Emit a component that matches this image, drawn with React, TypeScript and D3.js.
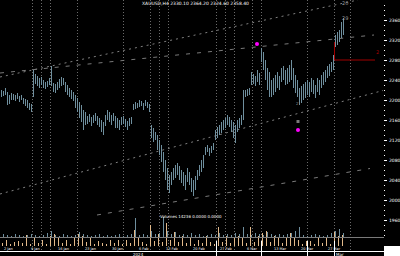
import React from "react";
import * as d3 from "d3";

// price bars: high / low per bar
const highs = [2220,2218,2224,2216,2210,2214,2212,2210,2214,2208,2210,2204,2202,2200,2194,2192,2260,2252,2248,2244,2246,2240,2236,2238,2244,2268,2234,2232,2236,2242,2246,2244,2236,2230,2224,2220,2216,2210,2204,2196,2190,2180,2176,2168,2172,2166,2170,2174,2168,2164,2160,2156,2170,2180,2176,2170,2174,2168,2164,2160,2166,2168,2162,2158,2164,2166,2192,2196,2194,2200,2198,2194,2200,2196,2192,2150,2144,2136,2130,2120,2110,2096,2080,2064,2050,2056,2064,2070,2074,2068,2060,2056,2050,2064,2056,2044,2040,2048,2060,2070,2080,2090,2106,2110,2104,2108,2114,2140,2146,2150,2156,2160,2164,2170,2166,2160,2156,2150,2160,2164,2170,2220,2220,2222,2224,2256,2252,2248,2260,2254,2304,2296,2280,2264,2256,2240,2244,2250,2256,2248,2264,2268,2260,2264,2270,2280,2264,2250,2240,2224,2228,2232,2236,2240,2236,2244,2240,2230,2244,2240,2250,2256,2260,2268,2272,2276,2290,2330,2336,2340,2356,2364];
const lows = [2206,2208,2210,2190,2192,2200,2200,2198,2202,2196,2200,2192,2188,2184,2180,2176,2206,2232,2228,2224,2230,2224,2222,2226,2230,2228,2216,2214,2220,2224,2228,2230,2216,2210,2206,2202,2198,2184,2176,2164,2156,2140,2150,2152,2156,2148,2154,2158,2150,2146,2136,2130,2148,2160,2156,2150,2158,2144,2144,2140,2150,2152,2146,2140,2148,2152,2180,2182,2184,2186,2188,2180,2188,2184,2176,2124,2116,2120,2100,2090,2076,2056,2040,2020,2014,2030,2040,2044,2050,2040,2034,2028,2020,2036,2030,2016,2008,2020,2040,2048,2056,2064,2090,2096,2088,2094,2100,2120,2124,2130,2134,2140,2144,2150,2146,2136,2124,2114,2136,2144,2150,2160,2206,2208,2210,2230,2232,2228,2236,2230,2276,2260,2240,2220,2206,2206,2210,2216,2224,2220,2236,2240,2230,2232,2236,2240,2224,2214,2206,2190,2194,2200,2204,2210,2206,2216,2212,2204,2216,2210,2224,2230,2236,2244,2248,2256,2260,2306,2310,2316,2324,2330];

// volume (one per two bars) and oscillator
const volume = [3,6,2,4,5,3,11,2,8,3,6,2,10,12,8,3,6,2,8,12,10,4,8,2,5,3,2,6,3,6,2,6,3,16,8,4,2,21,5,12,4,23,6,14,4,10,3,8,2,6,3,10,4,2,19,4,10,3,8,10,8,3,19,4,10,13,15,4,10,8,3,8,13,8,6,2,5,5,2,8,3,8,2,14,10,11];
const osc = [3,2,1,3,2,1,2,3,2,1,2,4,6,2,1,3,2,1,2,5,3,2,1,2,3,1,2,1,2,3,1,2,3,19,2,3,2,6,3,4,20,6,3,5,2,3,2,4,2,3,1,2,3,2,4,2,3,2,4,3,10,3,2,4,3,2,5,3,2,3,2,3,4,6,10,2,1,2,3,2,1,2,4,6,8,4];

// period separators (bar index)
const separators = [15.5,20,24.5,38,61,74.5,79,83.5,107.5,112,116.5,125.5,130,153,166.5,174.5];

// trend lines: [i1, p1, i2, p2]
const trendUpperA = [-0.5, 2246, 178.5, 2400];
const trendUpperB = [-0.5, 2254, 186.5, 2330];
const trendLowerA = [-0.5, 2012, 191, 2219];
const trendLowerB = [48, 1970, 184.5, 2063];

const priceTicks = [2360,2320,2280,2240,2200,2160,2120,2080,2040,2000,1960];
const dateLabels = ["2 Jan","9 Jan","16 Jan","23 Jan","30 Jan","6 Feb","13 Feb","20 Feb","27 Feb","6 Mar","13 Mar","20 Mar","27 Mar"];

// markers
const markers = [[128, 2312],[148.5, 2140]];
const redLevel = { i: 166.5, top: 2316, price: 2280 };

export default function App() {
  const W = 400, H = 256;
  const x = d3.scaleLinear().domain([0, 171]).range([1, 343]);
  const y = d3.scaleLinear().domain([1920, 2400]).range([240, 0]);
  const vy = d3.scaleLinear().domain([0, 25]).range([246, 221]);
  const oy = d3.scaleLinear().domain([0, 20]).range([237, 217]);
  const barColor = "#6f8f9e";
  const line = (t: number[]) => (
    { x1: x(t[0]), y1: y(t[1]), x2: x(t[2]), y2: y(t[3]) }
  );
  const minorTicks = d3.range(1930, 2400, 10);
  return (
    <svg width={W} height={H} style={{ position: "fixed", left: 0, top: 0, background: "#000" }}
      fontFamily="DejaVu Sans">
      <rect width={W} height={H} fill="#000" />
      {separators.map((s, k) => (
        <line key={k} x1={Math.round(x(s)) + 0.5} x2={Math.round(x(s)) + 0.5} y1={0} y2={251}
          stroke="#6a6a6a" strokeDasharray="1,2" />
      ))}
      <line {...line(trendUpperA)} stroke="#808080" strokeDasharray="2,4" />
      <line {...line(trendUpperB)} stroke="#7a7a7a" strokeDasharray="4,7" />
      <line {...line(trendLowerA)} stroke="#808080" strokeDasharray="2,4" />
      <line {...line(trendLowerB)} stroke="#7a7a7a" strokeDasharray="4,7" />
      {highs.map((h, i) => (
        <line key={i} x1={Math.round(x(i)) + 0.5} x2={Math.round(x(i)) + 0.5} y1={y(h)} y2={y(lows[i])}
          stroke={barColor} strokeWidth={1} />
      ))}
      {markers.map((m, k) => (
        <circle key={k} cx={x(m[0])} cy={y(m[1])} r={2} fill="#ff00ff" />
      ))}
      <rect x={x(148.5) - 1.5} y={y(2156) - 2} width={3} height={3} fill="#7a7a7a" />
      <text x={x(148.5) - 2} y={y(2190)} fontSize={4} fill="#8a8a8a">2</text>
      <text x={x(170.5)} y={y(2360)} fontSize={5} fill="#9a9a9a">29</text>
      <text x={x(170.5)} y={5} fontSize={5} fill="#9a9a9a">20</text>
      <line x1={Math.round(x(redLevel.i)) + 0.5} x2={Math.round(x(redLevel.i)) + 0.5} y1={y(redLevel.top)} y2={y(redLevel.price)}
        stroke="#a00000" strokeWidth={1} />
      <line x1={Math.round(x(redLevel.i))} x2={375} y1={y(redLevel.price)} y2={y(redLevel.price)} stroke="#a00000" strokeWidth={1.2} />
      <text x={376} y={y(redLevel.price) - 6} fontSize={5} fill="#a00000">2</text>
      <text x={142} y={5} fontSize={4.5} fill="#ffffff">XAUUSD,H4  2330.10 2364.20 2324.60 2358.40</text>
      {/* lower panel */}
      {volume.map((v, k) => (
        <rect key={k} x={Math.round(x(2 * k + 0.5))} y={vy(v)} width={1} height={vy(0) - vy(v)} fill="#e2b98a" />
      ))}
      {osc.map((v, k) => (
        <rect key={"o" + k} x={Math.round(x(2 * k + 1))} y={oy(v)} width={1} height={oy(0) - oy(v)} fill={barColor} />
      ))}
      <line x1={0} x2={384} y1={237.5} y2={237.5} stroke="#7a7a7a" strokeWidth={1} />
      <text x={160} y={218} fontSize={4} fill="#ffffff">Volumes 14236 0.0000 0.0000</text>
      <line x1={0} x2={384} y1={251.5} y2={251.5} stroke="#ffffff" strokeWidth={1} />
      {dateLabels.map((d, k) => (
        <text key={k} x={4 + k * 27} y={249.5} fontSize={3.5} fill="#ffffff">{d}</text>
      ))}
      {[107.5, 130, 153, 166.5].map((s, k) => (
        <line key={k} x1={Math.round(x(s)) + 0.5} x2={Math.round(x(s)) + 0.5} y1={241} y2={256} stroke="#ffffff" />
      ))}
      <text x={133} y={256} fontSize={4} fill="#ffffff">2024</text>
      <text x={336} y={256} fontSize={4} fill="#ffffff">Mar</text>
      {/* right axis */}
      {minorTicks.map((t) => (
        <line key={t} x1={384} x2={385} y1={Math.round(y(t)) + 0.5} y2={Math.round(y(t)) + 0.5} stroke="#ffffff" />
      ))}
      {priceTicks.map((t) => (
        <g key={t}>
          <line x1={384} x2={387} y1={Math.round(y(t)) + 0.5} y2={Math.round(y(t)) + 0.5} stroke="#ffffff" />
          <text x={389} y={y(t) + 2} fontSize={4.5} fill="#ffffff">{t}</text>
        </g>
      ))}
      <rect x={384} y={246} width={16} height={10} fill="#ffffff" />
    </svg>
  );
}
